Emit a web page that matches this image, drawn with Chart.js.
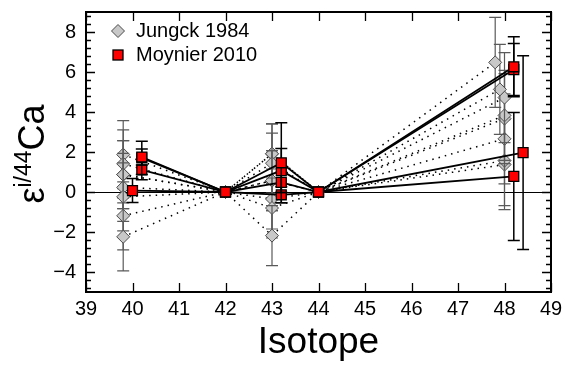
<!DOCTYPE html>
<html><head><meta charset="utf-8">
<style>html,body{margin:0;padding:0;background:#fff;overflow:hidden}#wrap{width:565px;height:367px;position:relative}</style>
<script src="https://cdn.jsdelivr.net/npm/chart.js@4.4.1/dist/chart.umd.min.js"></script>
</head><body><div id="wrap"><canvas id="c" width="565" height="367"></canvas></div>
<script>
const FONT = "'Liberation Sans', Arial, Helvetica, sans-serif";
// axis ticks
const xTickValues = [39, 40, 41, 42, 43, 44, 45, 46, 47, 48, 49];
const yTickValues = [-4, -2, 0, 2, 4, 6, 8];
// normalising isotopes (42, 44) have epsilon = 0
const normValue = 0;
// Jungck 1984 (plotted x for isotopes 40, 42, 43, 44; 48 given separately)
const jungckPos = [39.8, 42, 43.0, 44];
const jungckX48 = [47.8, 47.9, 48.0, 48.0, 48.0, 48.0, 48.0, 48.0];
const jungckE40 = [-2.24, -1.19, -0.24, 0.23, 0.87, 0.87, 1.41, 1.87];
const jungckE43 = [-2.18, -0.80, -0.35, 0.57, 0.57, 1.44, 1.91, 1.91];
const jungckE48 = [6.48, 5.13, 4.72, 3.83, 3.67, 2.66, 1.57, 1.37];
const jungckErr = [1.7, 0, 1.5, 0, 2.25];
// Moynier 2010
const moynierX40 = [40.2, 40.2, 40.2, 40.0];
const moynierX43 = [43.2, 43.2, 43.2, 43.2];
const moynierX48 = [48.2, 48.2, 48.4, 48.2];
const moynierE40 = [1.75, 1.71, 1.11, 0.07];
const moynierE43 = [1.46, 1.07, 0.48, -0.14];
const moynierE48 = [6.26, 6.12, 1.97, 0.78];
const moynierErr40 = [0.4, 0.83, 0.5, 0.6];
const moynierErr43 = [2.0, 1.1, 0.5, 0.4];
const moynierErr48 = [1.5, 1.3, 4.84, 3.2];
const legendLabels = ['Jungck 1984', 'Moynier 2010'];

const datasets = [];
moynierE40.forEach((v, i) => {
  datasets.push({
    label: legendLabels[1], order: 0, group: 'm',
    data: [{x: moynierX40[i], y: v}, {x: 42, y: normValue}, {x: moynierX43[i], y: moynierE43[i]}, {x: 44, y: normValue}, {x: moynierX48[i], y: moynierE48[i]}],
    err: [moynierErr40[i], 0, moynierErr43[i], 0, moynierErr48[i]],
    showLine: true, borderColor: '#000', borderWidth: 1.8,
    pointStyle: 'rect', pointRadius: 7, pointHoverRadius: 7,
    pointBackgroundColor: '#ff0000', pointBorderColor: '#000', pointBorderWidth: 1.3
  });
});
jungckE40.forEach((v, i) => {
  datasets.push({
    label: legendLabels[0], order: 1, group: 'j',
    data: [{x: jungckPos[0], y: v}, {x: jungckPos[1], y: normValue}, {x: jungckPos[2], y: jungckE43[i]}, {x: jungckPos[3], y: normValue}, {x: jungckX48[i], y: jungckE48[i]}],
    err: jungckErr,
    showLine: true, borderColor: '#000', borderWidth: 1.5, borderDash: [1.5, 5],
    pointStyle: 'rectRot', pointRadius: 6.5, pointHoverRadius: 6.5,
    pointBackgroundColor: '#c8c8c8', pointBorderColor: '#4a4a4a', pointBorderWidth: 1
  });
});

const decor = {
  id: 'decor',
  beforeDatasetsDraw(chart) {
    const {ctx, chartArea: a, scales: {y}} = chart;
    ctx.save();
    ctx.strokeStyle = '#000'; ctx.lineWidth = 1;
    const y0 = Math.round(y.getPixelForValue(0)) + 0.5;
    ctx.beginPath(); ctx.moveTo(a.left, y0); ctx.lineTo(a.right, y0); ctx.stroke();
    ctx.restore();
  },
  beforeDatasetDraw(chart, args) {
    const ds = chart.data.datasets[args.index];
    const {ctx, scales: {x, y}} = chart;
    ctx.save();
    ctx.strokeStyle = ds.group === 'j' ? '#5a5a5a' : '#000';
    ctx.lineWidth = ds.group === 'j' ? 1.2 : 1.5;
    ds.data.forEach((p, k) => {
      const e = ds.err[k];
      if (!e) return;
      const px = x.getPixelForValue(p.x);
      const yt = y.getPixelForValue(p.y + e), yb = y.getPixelForValue(p.y - e);
      ctx.beginPath();
      ctx.moveTo(px, yt); ctx.lineTo(px, yb);
      ctx.moveTo(px - 6, yt); ctx.lineTo(px + 6, yt);
      ctx.moveTo(px - 6, yb); ctx.lineTo(px + 6, yb);
      ctx.stroke();
    });
    ctx.restore();
  },
  afterDraw(chart) {
    const {ctx, chartArea: a, scales: {x, y}} = chart;
    ctx.save();
    ctx.strokeStyle = '#000';
    // ticks
    ctx.lineWidth = 1.3;
    ctx.beginPath();
    xTickValues.forEach(v => {
      const px = Math.round(x.getPixelForValue(v)) + 0.5;
      ctx.moveTo(px, a.bottom); ctx.lineTo(px, a.bottom - 9);
      ctx.moveTo(px, a.top); ctx.lineTo(px, a.top + 9);
    });
    for (let v = -4.8; v < 9; v += 0.4) {
      const r = Math.round(v * 10) / 10;
      const major = yTickValues.includes(r);
      const len = major ? 9 : 5;
      const py = Math.round(y.getPixelForValue(r)) + 0.5;
      ctx.moveTo(a.left, py); ctx.lineTo(a.left + len, py);
      ctx.moveTo(a.right, py); ctx.lineTo(a.right - len, py);
    }
    ctx.stroke();
    // frame
    ctx.lineWidth = 2;
    ctx.strokeRect(a.left, a.top, a.right - a.left, a.bottom - a.top);
    // legend
    ctx.font = '20px ' + FONT;
    ctx.textBaseline = 'middle';
    const lx = 118;
    ctx.beginPath();
    ctx.moveTo(lx - 6.5, 31); ctx.lineTo(lx, 24.5); ctx.lineTo(lx + 6.5, 31); ctx.lineTo(lx, 37.5); ctx.closePath();
    ctx.fillStyle = '#c8c8c8'; ctx.fill();
    ctx.lineWidth = 1; ctx.strokeStyle = '#4a4a4a'; ctx.stroke();
    ctx.fillStyle = '#ff0000';
    ctx.fillRect(lx - 5, 50, 10, 10);
    ctx.lineWidth = 1.3; ctx.strokeStyle = '#000';
    ctx.strokeRect(lx - 5, 50, 10, 10);
    ctx.fillStyle = '#000';
    ctx.fillText(legendLabels[0], 136, 31);
    ctx.fillText(legendLabels[1], 136, 55);
    // y title: ε^{i/44}Ca
    const big = '36px ' + FONT, small = '23px ' + FONT;
    const parts = [['ε', big, 0], ['i/44', small, -13], ['Ca', big, 0]];
    let total = 0;
    parts.forEach(p => { ctx.font = p[1]; p.push(ctx.measureText(p[0]).width); total += p[3]; });
    ctx.translate(44, 154);
    ctx.rotate(-Math.PI / 2);
    ctx.textBaseline = 'alphabetic';
    ctx.textAlign = 'left';
    let u = -total / 2;
    parts.forEach(p => { ctx.font = p[1]; ctx.fillText(p[0], u, p[2]); u += p[3]; });
    ctx.restore();
  }
};

new Chart(document.getElementById('c'), {
  type: 'scatter',
  data: {datasets},
  options: {
    responsive: false, animation: false, devicePixelRatio: 1,
    layout: {padding: {top: 12, right: 14, left: 0, bottom: 0}},
    plugins: {legend: {display: false}, tooltip: {enabled: false}},
    events: [],
    scales: {
      x: {
        type: 'linear', min: 39, max: 49,
        afterBuildTicks: s => { s.ticks = xTickValues.map(v => ({value: v})); },
        afterFit: s => { s.height = 75; s.paddingLeft = 0; s.paddingRight = 0; },
        grid: {display: false, drawTicks: false}, border: {display: false},
        ticks: {color: '#000', font: {family: FONT, size: 20}, padding: 5, maxRotation: 0, autoSkip: false},
        title: {display: true, text: 'Isotope', color: '#000', font: {family: FONT, size: 37}, padding: {top: 0, bottom: 2}}
      },
      y: {
        type: 'linear', min: -5, max: 9,
        afterBuildTicks: s => { s.ticks = yTickValues.map(v => ({value: v})); },
        afterFit: s => { s.width = 86; s.paddingTop = 0; s.paddingBottom = 0; },
        grid: {display: false, drawTicks: false}, border: {display: false},
        ticks: {color: '#000', font: {family: FONT, size: 20}, padding: 10, autoSkip: false,
          callback: v => String(v).replace('-', '\u2212')}
      }
    }
  },
  plugins: [decor]
});
</script></body></html>
